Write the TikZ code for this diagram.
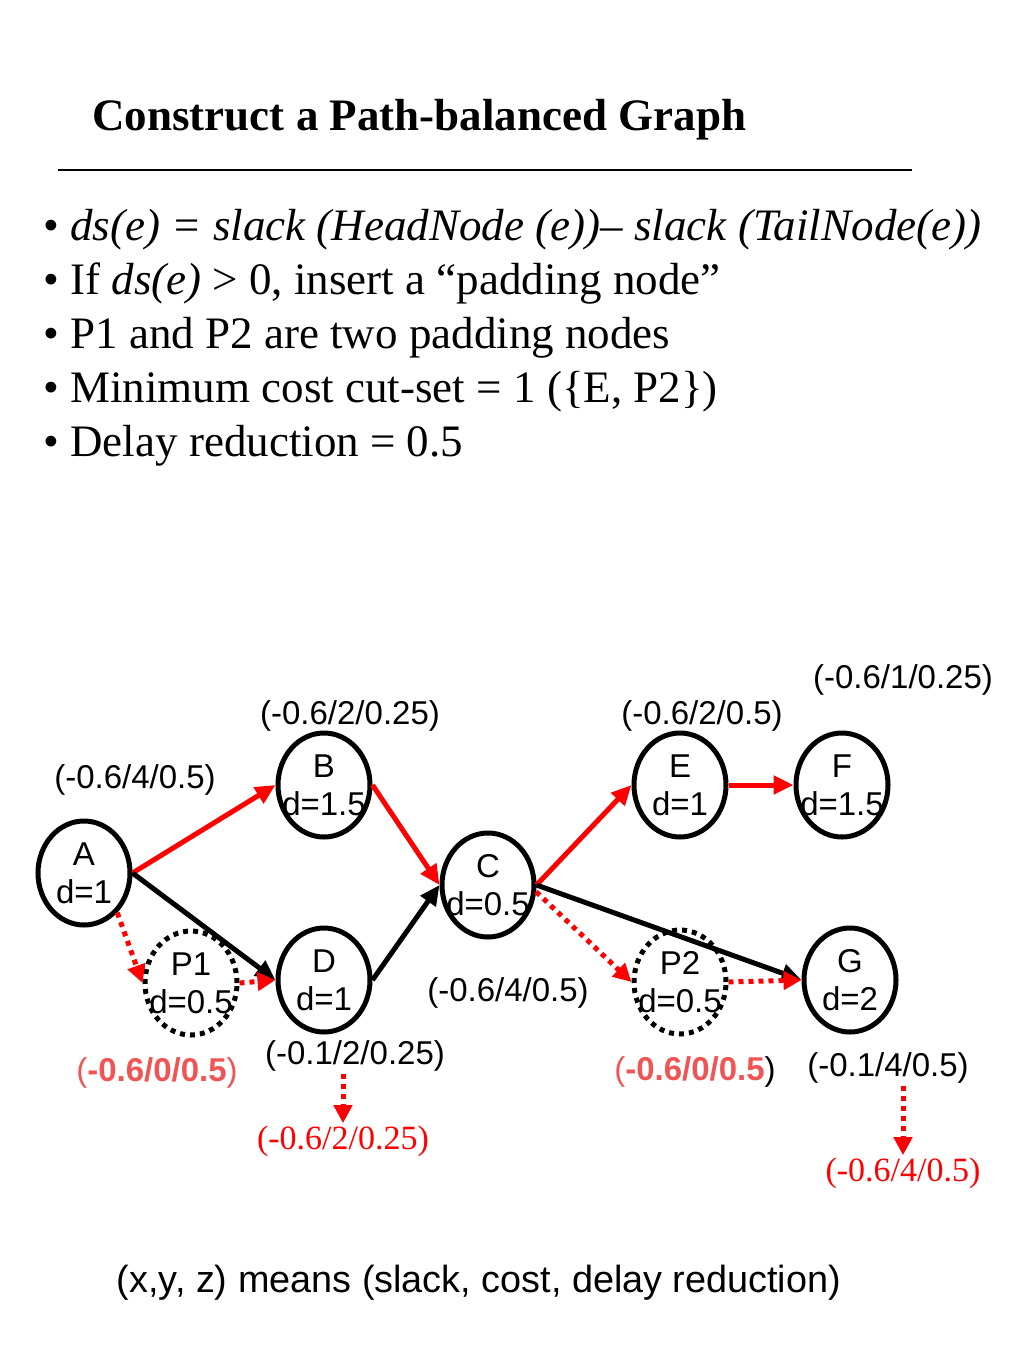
\documentclass[tikz,border=0pt]{standalone}
\usepackage{fontspec}
\setmainfont{Liberation Serif}
\newfontfamily\lblsans{Liberation Sans}
\usepackage{xcolor}
\usetikzlibrary{shapes.geometric}
\usetikzlibrary{arrows.meta}

\definecolor{padred}{RGB}{240,85,85}

\begin{document}
\begin{tikzpicture}[x=0.5pt,y=-0.5pt,
  vtx/.style={draw, ellipse, line width=2.5pt, minimum width=46pt, minimum height=52pt,
    inner xsep=-12pt, inner ysep=-3pt, align=center, font=\lblsans\fontsize{16.5}{19}\selectfont},
  padvtx/.style={vtx, dash pattern=on 2.5pt off 2.5pt},
  redarr/.style={red, line width=2.5pt, -{Triangle[length=10pt,width=9pt]}},
  blkarr/.style={black, line width=2.5pt, -{Triangle[length=10pt,width=9pt]}},
  padarr/.style={red, line width=2.5pt, dash pattern=on 2.5pt off 2.5pt, -{Triangle[length=9pt,width=9pt]}},
  lbl/.style={font=\lblsans\fontsize{16.5}{19}\selectfont, inner sep=1pt},
  newlbl/.style={red, font=\fontsize{17}{20}\selectfont, inner sep=1pt},
  bul/.style={anchor=base west, inner sep=0pt, font=\fontsize{22.5}{27}\selectfont}]

\useasboundingbox (0,0) rectangle (1024,1365);

% title and rule
\node[anchor=base west, inner sep=0pt, font=\bfseries\fontsize{22.5}{27}\selectfont] (title) at (92,130) {Construct a Path-balanced Graph};
\draw[line width=1pt] (58,170) -- (912,170);

% bullets
\node[bul] (b1) at (43,240) {\textbullet\ \textit{ds(e) = slack (HeadNode (e))– slack (TailNode(e))}};
\node[bul] (b2) at (43,294) {\textbullet\ If \textit{ds(e)} > 0, insert a ``padding node''};
\node[bul] (b3) at (43,348) {\textbullet\ P1 and P2 are two padding nodes};
\node[bul] (b4) at (43,402) {\textbullet\ Minimum cost cut-set = 1 (\{E, P2\})};
\node[bul] (b5) at (43,456) {\textbullet\ Delay reduction = 0.5};

% nodes
\node[vtx] (A) at (84,873) {A\\d=1};
\node[vtx] (B) at (324,785) {B\\d=1.5};
\node[vtx] (D) at (324,980) {D\\d=1};
\node[padvtx] (P1) at (191,983) {P1\\d=0.5};
\node[vtx] (C) at (488,885) {C\\d=0.5};
\node[vtx] (E) at (680,785) {E\\d=1};
\node[vtx] (F) at (842,785) {F\\d=1.5};
\node[padvtx] (P2) at (680,982) {P2\\d=0.5};
\node[vtx] (G) at (850,980) {G\\d=2};

% edges
\draw[redarr] (A.east) -- (B.west);
\draw[redarr] (B.east) -- (C.west);
\draw[blkarr] (A.east) -- (D.west);
\draw[blkarr] (D.east) -- (C.west);
\draw[redarr] (C.east) -- (E.west);
\draw[redarr] (E.east) -- (F.west);
\draw[blkarr] (C.east) -- (G.west);

% padding edges
\draw[padarr] (A.-50) -- (P1.west);
\draw[padarr] (P1.east) -- (D.west);
\draw[padarr] (C.-8) -- (P2.west);
\draw[padarr] (P2.east) -- (G.west);

% labels
\node[lbl] (Albl) at (135,780) {(-0.6/4/0.5)};
\node[lbl] (Blbl) at (350,716) {(-0.6/2/0.25)};
\node[lbl] (Elbl) at (702,716) {(-0.6/2/0.5)};
\node[lbl] (Flbl) at (903,680) {(-0.6/1/0.25)};
\node[lbl] (Clbl) at (508,993) {(-0.6/4/0.5)};
\node[lbl] (Dlbl) at (355,1056) {(-0.1/2/0.25)};
\node[lbl] (Glbl) at (888,1068) {(-0.1/4/0.5)};
\node[lbl] (P1lbl) at (157,1073) {\color{padred}(\textbf{-0.6/0/0.5})};
\node[lbl] (P2lbl) at (695,1072) {{\color{padred}(\textbf{-0.6/0/0.5}})};

% new slacks
\node[newlbl] (Dnew) at (343,1141) {(-0.6/2/0.25)};
\node[newlbl] (Gnew) at (903,1173) {(-0.6/4/0.5)};
\draw[padarr] (Dnew.north |- Dlbl.south) -- (Dnew.north);
\draw[padarr] (Gnew.north |- Glbl.south) -- (Gnew.north);

\node[lbl, font=\lblsans\fontsize{18.9}{22}\selectfont] (note) at (479,1283) {(x,y, z) means (slack, cost, delay reduction)};

\end{tikzpicture}
\end{document}
